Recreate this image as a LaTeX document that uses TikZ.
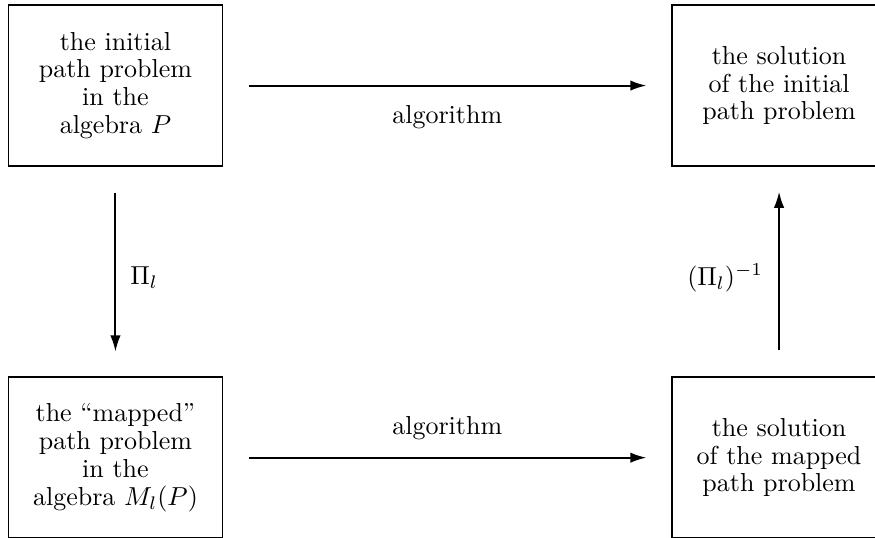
\documentclass[tikz,border=0pt]{standalone}
\usepackage{amsmath}
\usepackage{tikz}
\usetikzlibrary{positioning, arrows.meta}

\begin{document}
\begin{tikzpicture} [node distance = 143.1pt and 255.2pt, on grid,
        box/.style = {draw, line width = 0.7pt, minimum width = 82.3pt,
        minimum height = 61.9pt, inner sep = 0pt, align = center,
        font = \fontsize{10}{10.7}\selectfont}]

        \path [use as bounding box, clip] (-44.4pt,32.9pt) rectangle
        (292.1pt,-173.65pt);

        \node (ini) [box] {the initial\\path problem\\in the\\algebra $P$};
        \node (sol) [box, right = of ini] {the solution\\of the
        initial\\path problem}; \node (map) [box, below = of ini] {the
        ``mapped''\\path problem\\in the\\algebra $M_l(P)$}; \node (msol)
        [box, below = of sol] {the solution\\of the mapped\\path problem};

        \path [-{Latex[length=6.2pt, width=4pt]}, line width = 0.75pt,
            shorten <= 10pt, shorten >= 9.5pt]
            (ini) edge node [below = 4pt] {algorithm} (sol) (map) edge
            node [above = 3pt] {algorithm} (msol) (ini) edge node [right =
            2pt, pos = 0.53] {$\Pi_l$} (map) (msol) edge node [left =
            2.5pt, pos = 0.47] {$(\Pi_l)^{-1}$} (sol);
    \end{tikzpicture}
\end{document}
